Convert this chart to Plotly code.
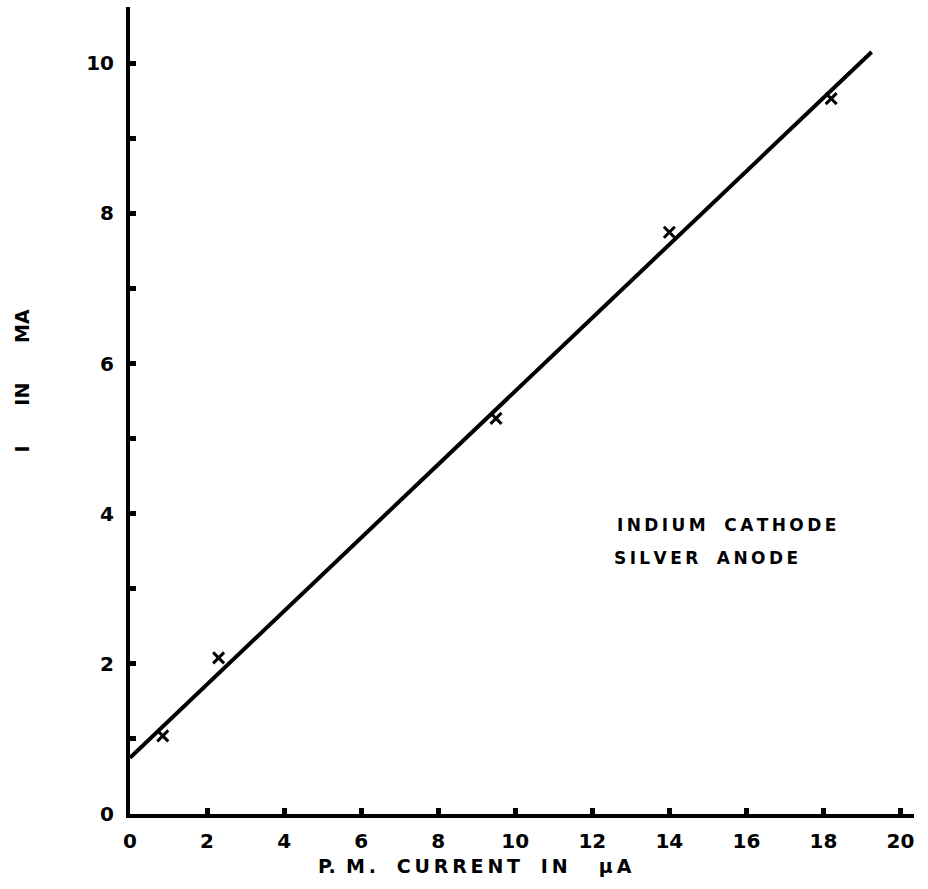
import plotly.graph_objects as go

# Data
pm_current = [0.85, 2.3, 9.5, 14.0, 18.2]        # µA
i_ma = [1.04, 2.08, 5.27, 7.75, 9.53]             # mA
fit_x = [0.0, 19.25]
fit_y = [0.75, 10.15]

x_ticks = [0, 2, 4, 6, 8, 10, 12, 14, 16, 18, 20]
x_ticktext = ["0", "2", "4", "6", "8", "10", "12", "14", "16", "18", "20"]
y_ticks = [0, 1, 2, 3, 4, 5, 6, 7, 8, 9, 10]
y_ticktext = ["0", "", "2", "", "4", "", "6", "", "8", "", "10"]

FONT = "DejaVu Sans"
TS = "\u2009"


def spaced(s):
    return TS.join(list(s)).replace(TS + " " + TS, TS + "  " + TS)


fig = go.Figure()
fig.add_trace(go.Scatter(x=fit_x, y=fit_y, mode="lines",
                         line=dict(color="black", width=4), showlegend=False,
                         hoverinfo="skip"))
fig.add_trace(go.Scatter(x=pm_current, y=i_ma, mode="markers",
                         marker=dict(symbol="x-thin", size=11, color="black",
                                     line=dict(color="black", width=3)),
                         showlegend=False))

fig.update_xaxes(range=[0, 20.35], tickvals=x_ticks, ticktext=x_ticktext,
                 showgrid=False, zeroline=False, showline=True, linecolor="black",
                 linewidth=4, ticks="inside", ticklen=6, tickwidth=5, tickcolor="black",
                 tickfont=dict(family=FONT, size=20, color="black", weight="bold"),
                 ticklabelstandoff=6)
fig.update_yaxes(range=[0, 10.75], tickvals=y_ticks, ticktext=y_ticktext,
                 showgrid=False, zeroline=False, showline=True, linecolor="black",
                 linewidth=4, ticks="inside", ticklen=6, tickwidth=5, tickcolor="black",
                 tickfont=dict(family=FONT, size=20, color="black", weight="bold"),
                 ticklabelstandoff=8)

annotations = [
    dict(text=spaced("P.M. CURRENT IN  μA").replace("P" + TS + "." + TS + "M", "P." + TS + " M"),
         xref="paper", yref="paper",
         x=0.44, y=-0.064, xanchor="center", yanchor="middle", showarrow=False,
         font=dict(family=FONT, size=19, color="black", weight="bold")),
    dict(text="I      IN      MA", xref="paper", yref="paper",
         x=-0.138, y=0.537, xanchor="center", yanchor="middle", showarrow=False,
         textangle=-90,
         font=dict(family=FONT, size=19, color="black", weight="bold")),
    dict(text=spaced("INDIUM CATHODE"), xref="x", yref="y",
         x=12.6, y=3.85, xanchor="left", yanchor="middle", showarrow=False,
         font=dict(family=FONT, size=17, color="black", weight="bold")),
    dict(text=spaced("SILVER ANODE"), xref="x", yref="y",
         x=12.5, y=3.41, xanchor="left", yanchor="middle", showarrow=False,
         font=dict(family=FONT, size=17, color="black", weight="bold")),
]

fig.update_layout(width=928, height=889,
                  margin=dict(l=130, r=14, t=7, b=75),
                  plot_bgcolor="white", paper_bgcolor="white",
                  annotations=annotations)

fig.write_html("out.html")
